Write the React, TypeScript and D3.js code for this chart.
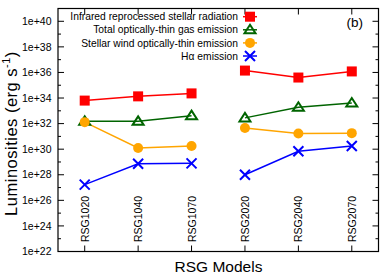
import React from "react";
import * as d3 from "d3";

const categories = ["RSG1020", "RSG1040", "RSG1070", "RSG2020", "RSG2040", "RSG2070"];
const groups = [[0, 1, 2], [3, 4, 5]];
const infrared = [6.3e33, 1.35e34, 2.3e34, 1.4e36, 4.0e35, 1.2e36];
const totalGas = [1.5e32, 1.5e32, 4.2e32, 2.8e32, 1.9e33, 4.1e33];
const windGas = [1.3e32, 1.25e30, 1.8e30, 4.5e31, 1.7e31, 1.8e31];
const halpha = [1.7e27, 7.2e28, 7.8e28, 1.0e28, 6.8e29, 1.8e30];
const yTickExps = [22, 24, 26, 28, 30, 32, 34, 36, 38, 40];
const legendLabels = [
  "Infrared reprocessed stellar radiation",
  "Total optically-thin gas emission",
  "Stellar wind optically-thin emission",
  "Hα emission",
];

const W = 392, H = 274;
const L = 58, R = 378.5, T = 8.5, B = 251.5;
const FONT = "'Liberation Sans', Arial, sans-serif";

const series = [
  { values: infrared, color: "#ff0000", marker: "square" },
  { values: totalGas, color: "#006400", marker: "triangle" },
  { values: windGas, color: "#ffa500", marker: "circle" },
  { values: halpha, color: "#0000ff", marker: "cross" },
];

function Marker({ type, x, y, color }: { type: string; x: number; y: number; color: string }) {
  if (type === "square") return <rect x={x - 5} y={y - 5} width={10} height={10} fill={color} />;
  if (type === "circle") return <circle cx={x} cy={y} r={5} fill={color} />;
  if (type === "triangle")
    return (
      <path
        d={`M${x},${y - 5}L${x + 5.5},${y + 3.5}L${x - 5.5},${y + 3.5}Z`}
        fill="none"
        stroke={color}
        strokeWidth={2}
      />
    );
  return (
    <path
      d={`M${x - 5},${y - 5}L${x + 5},${y + 5}M${x - 5},${y + 5}L${x + 5},${y - 5}`}
      stroke={color}
      strokeWidth={2}
    />
  );
}

export default function App() {
  const x = d3.scaleLinear().domain([0.5, 6.5]).range([L, R]);
  const y = d3.scaleLog().domain([1e22, 1e41]).range([B, T]);
  const allExps = d3.range(23, 41);

  return (
    <svg width={W} height={H} style={{ position: "absolute", left: 0, top: 0 }} fontFamily={FONT}>
      <rect width={W} height={H} fill="#fff" />
      {series.map((s, si) =>
        groups.map((g, gi) => (
          <path
            key={`${si}-${gi}`}
            d={d3
              .line<number>()
              .x((i) => x(i + 1))
              .y((i) => y(s.values[i]))(g) as string}
            fill="none"
            stroke={s.color}
            strokeWidth={1.5}
          />
        ))
      )}
      {series.map((s, si) =>
        s.values.map((v, i) => (
          <Marker key={`${si}-${i}`} type={s.marker} x={x(i + 1)} y={y(v)} color={s.color} />
        ))
      )}
      <rect x={L} y={T} width={R - L} height={B - T} fill="none" stroke="#000" strokeWidth={1.2} />
      {allExps.map((e) => {
        const major = e % 2 === 0;
        const len = major ? 6 : 3;
        const yy = y(Math.pow(10, e));
        return (
          <g key={e}>
            <line x1={L} x2={L + len} y1={yy} y2={yy} stroke="#000" />
            <line x1={R} x2={R - len} y1={yy} y2={yy} stroke="#000" />
          </g>
        );
      })}
      {yTickExps.map((e) => (
        <text key={e} x={L - 6.5} y={y(Math.pow(10, e))} dy="0.35em" textAnchor="end" fontSize={10.5}>
          {`1e+${e}`}
        </text>
      ))}
      {categories.map((c, i) => (
        <g key={c}>
          <line x1={x(i + 1)} x2={x(i + 1)} y1={B} y2={B - 6} stroke="#000" />
          <line x1={x(i + 1)} x2={x(i + 1)} y1={T} y2={T + 6} stroke="#000" />
          <text
            transform={`translate(${x(i + 1) + 4},${242}) rotate(-90)`}
            fontSize={10.5}
            textAnchor="start"
          >
            {c}
          </text>
        </g>
      ))}
      <text x={218.5} y={272} textAnchor="middle" fontSize={15.5}>
        RSG Models
      </text>
      <text
        transform={`translate(17,133.5) rotate(-90)`}
        textAnchor="middle"
        fontSize={16.5}
        letterSpacing={0.5}
      >
        Luminosities (erg s<tspan dy={-7} fontSize={11}>-1</tspan>
        <tspan dy={7}>)</tspan>
      </text>
      {series.map((s, i) => {
        const ly = 16.7 + i * 13.1;
        return (
          <g key={i}>
            <text x={238} y={ly} dy="0.35em" textAnchor="end" fontSize={10.3}>
              {legendLabels[i]}
            </text>
            <line x1={243} x2={257} y1={ly} y2={ly} stroke={s.color} strokeWidth={1.5} />
            <Marker type={s.marker} x={250} y={ly} color={s.color} />
          </g>
        );
      })}
      <text x={363} y={22} dy="0.35em" textAnchor="end" fontSize={13.5}>
        (b)
      </text>
    </svg>
  );
}
